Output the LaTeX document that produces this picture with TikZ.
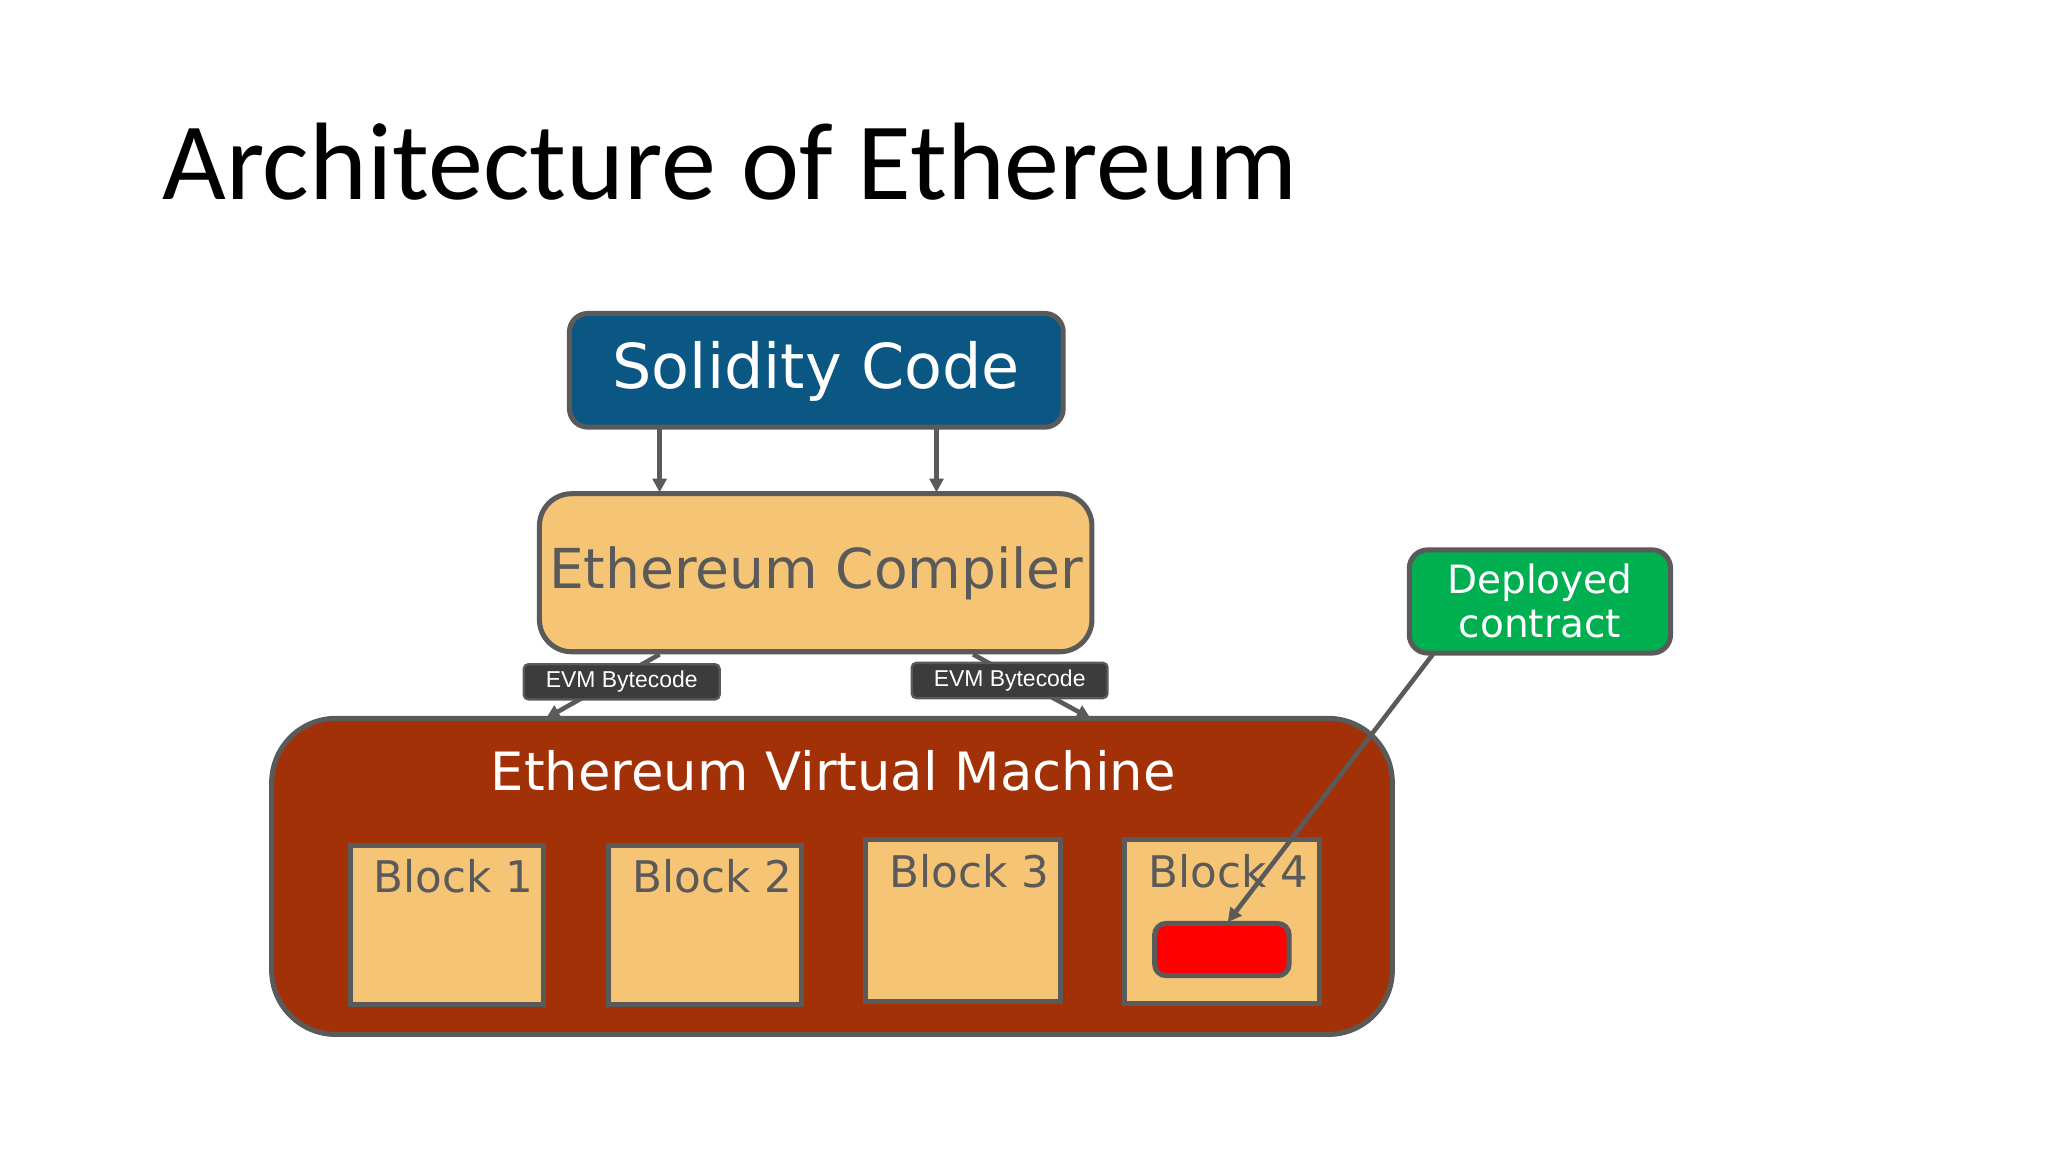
\documentclass[tikz,border=0pt]{standalone}
\usepackage{fontspec}
\setmainfont{DejaVu Sans}
\newfontfamily\titlefont{Carlito}
\newfontfamily\arialfont{Liberation Sans}
\usetikzlibrary{arrows.meta}
\definecolor{sblue}{HTML}{0B5783}
\definecolor{sorange}{HTML}{F5C474}
\definecolor{sbrown}{HTML}{A33108}
\definecolor{sgray}{HTML}{5A5A5A}
\definecolor{sgreen}{HTML}{00B050}
\definecolor{sdark}{HTML}{3C3C3C}
\begin{document}
\begin{tikzpicture}[x=0.02cm,y=-0.02cm,
  box/.style={draw=sgray,line width=2.2pt,rounded corners=8pt},
  blk/.style={draw=sgray,line width=2.2pt,fill=sorange},
  lbl/.style={fill=sdark,draw=sgray,line width=1pt,rounded corners=2pt,text=white,font=\arialfont\fontsize{10}{12}\selectfont},
  arr/.style={draw=sgray,line width=2pt,-{Triangle[length=6pt,width=6pt]}}]
\useasboundingbox (0,0) rectangle (1568,882);
\node[anchor=base west,font=\titlefont\fontsize{48}{56}\selectfont,text=black] (title) at (118,153) {Architecture of Ethereum};
% Solidity
\draw[box,fill=sblue] (436,240) rectangle (814,327);
\node[text=white,font=\fontsize{27}{32}\selectfont] (sol) at (625,284) {Solidity Code};
% compiler
\draw[box,fill=sorange,rounded corners=14pt] (413,378) rectangle (836,499);
\node[text=sgray,font=\fontsize{24}{28}\selectfont] (comp) at (625,439) {Ethereum Compiler};
\coordinate (s1) at (505,328); \coordinate (c1) at (505,377);
\coordinate (s2) at (717,328); \coordinate (c2) at (717,377);
\draw[arr] (s1) -- (c1);
\draw[arr] (s2) -- (c2);
% EVM
\draw[box,fill=sbrown,rounded corners=28pt] (208,550) rectangle (1066,792);
\node[text=white,font=\fontsize{23}{28}\selectfont] (evm) at (638,590) {Ethereum Virtual Machine};
% bytecode lines
\coordinate (b1) at (505,501); \coordinate (e1) at (418,550);
\coordinate (b2) at (745,501); \coordinate (e2) at (835,550);
\draw[arr] (b1) -- (e1);
\draw[arr] (b2) -- (e2);
\node[lbl,minimum width=3cm,minimum height=0.54cm,inner sep=0pt] (l1) at (476,522) {EVM Bytecode};
\node[lbl,minimum width=3cm,minimum height=0.54cm,inner sep=0pt] (l2) at (773,521) {EVM Bytecode};
% blocks
\draw[blk] (268,647) rectangle (416,769);
\node[anchor=north west,text=sgray,font=\fontsize{19}{22}\selectfont] (k1) at (280,652) {Block 1};
\draw[blk] (466,647) rectangle (614,769);
\node[anchor=north west,text=sgray,font=\fontsize{19}{22}\selectfont] (k2) at (478,652) {Block 2};
\draw[blk] (663,643) rectangle (812,767);
\node[anchor=north west,text=sgray,font=\fontsize{19}{22}\selectfont] (k3) at (675,648) {Block 3};
\draw[blk] (861,643) rectangle (1010,768);
\node[anchor=north west,text=sgray,font=\fontsize{19}{22}\selectfont] (k4) at (873,648) {Block 4};
\draw[box,fill=red,rounded corners=5pt] (884,707) rectangle (987,747);
\coordinate (red) at (940,706);
% deployed
\draw[box,fill=sgreen,rounded corners=8pt] (1079,421) rectangle (1279,500);
\node[text=white,align=center,font=\fontsize{17}{19}\selectfont] (dep) at (1179,460) {Deployed\\contract};
\coordinate (d0) at (1097,501);
\draw[arr] (d0) -- (red);
\end{tikzpicture}
\end{document}
